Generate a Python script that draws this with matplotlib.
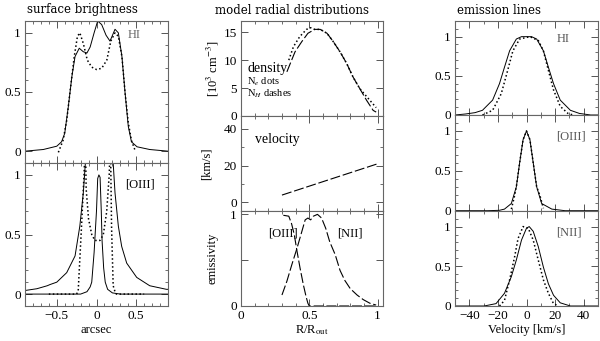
#!/usr/bin/env python3

import numpy as np
import matplotlib.pyplot as plt
from matplotlib.ticker import MultipleLocator

# surface brightness, HI
hi_sb_x = [-0.9, -0.67, -0.5, -0.44, -0.4, -0.355, -0.31, -0.27, -0.217, -0.166, -0.12, -0.08,
           -0.03, 0.015, 0.065, 0.12, 0.17, 0.233, 0.275, 0.32, 0.36, 0.4, 0.44, 0.51, 0.67, 0.9]
hi_sb_obs = [0.0, 0.014, 0.042, 0.079, 0.15, 0.375, 0.63, 0.8, 0.87, 0.84, 0.83, 0.88,
             1.0, 1.1, 1.07, 0.98, 0.93, 1.03, 1.0, 0.8, 0.49, 0.21, 0.079, 0.037, 0.014, 0.0]
hi_sb_mod_x = [-0.48, -0.42, -0.375, -0.33, -0.28, -0.24, -0.21, -0.166, -0.116, -0.06, 0.0,
               0.065, 0.13, 0.18, 0.233, 0.275, 0.32, 0.36, 0.4, 0.44, 0.485]
hi_sb_mod = [-0.01, 0.093, 0.26, 0.52, 0.8, 0.97, 1.0, 0.91, 0.77, 0.71, 0.69,
             0.7, 0.77, 0.93, 1.0, 0.97, 0.8, 0.49, 0.24, 0.09, 0.008]

# surface brightness, [OIII]
oiii_wide_x = [-0.9, -0.75, -0.62, -0.585, -0.5, -0.375, -0.27, -0.21, -0.166, -0.14, -0.12]
oiii_wide = [0.03, 0.045, 0.07, 0.08, 0.1, 0.18, 0.32, 0.57, 0.85, 1.1, 1.3]
oiii_wide_r_x = [0.19, 0.21, 0.233, 0.275, 0.317, 0.38, 0.506, 0.67, 0.88, 0.9]
oiii_wide_r = [1.3, 1.1, 0.85, 0.57, 0.4, 0.26, 0.14, 0.07, 0.04, 0.04]
oiii_core_x = [-0.9, -0.2, -0.12, -0.08, -0.06, -0.03, 0.0, 0.015, 0.03, 0.045, 0.06, 0.07,
               0.09, 0.11, 0.14, 0.2, 0.3, 0.9]
oiii_core = [0.0, 0.0, 0.02, 0.06, 0.1, 0.35, 0.7, 0.97, 1.0, 0.98, 0.7, 0.45,
             0.22, 0.1, 0.04, 0.01, 0.0, 0.0]
oiii_sb_mod_x = [-0.6, -0.25, -0.23, -0.19, -0.157, -0.14, -0.13, -0.1, -0.06, -0.02, 0.044,
                 0.086, 0.128, 0.16, 0.175, 0.19, 0.21, 0.233, 0.25, 0.6]
oiii_sb_mod = [0.0, 0.0, 0.03, 0.55, 1.0, 1.3, 0.88, 0.63, 0.5, 0.45, 0.45,
               0.5, 0.69, 1.0, 1.3, 0.55, 0.07, 0.02, 0.0, 0.0]

# model density
dens_r = [0.336, 0.396, 0.445, 0.49, 0.54, 0.58, 0.63, 0.676, 0.725, 0.774, 0.82, 0.87,
          0.92, 0.968, 0.99]
n_h = [7.9, 11.5, 13.3, 14.8, 15.5, 15.5, 14.8, 13.3, 11.5, 9.4, 7.0, 4.9, 2.8, 1.0, 0.7]
ne_r = [0.35, 0.384, 0.43, 0.48, 0.51, 0.54, 0.58, 0.63, 0.676, 0.725, 0.774, 0.82, 0.87,
        0.944, 0.99]
n_e = [10.0, 12.4, 14.2, 15.5, 15.8, 15.5, 15.5, 14.8, 13.3, 11.5, 9.4, 7.0, 4.9, 2.8, 1.5]

# model velocity
vel_r = [0.3, 1.0]
vel = [4.0, 21.0]

# model emissivity
em_oiii_r = [0.31, 0.35, 0.37, 0.39, 0.41, 0.433, 0.457, 0.477, 0.49, 0.5, 1.0]
em_oiii = [0.99, 0.98, 0.9, 0.78, 0.6, 0.41, 0.23, 0.1, 0.03, 0.0, 0.0]
em_nii_r = [0.3, 0.336, 0.372, 0.41, 0.445, 0.47, 0.49, 0.51, 0.53, 0.56, 0.59, 0.62, 0.65,
            0.69, 0.725, 0.76, 0.8, 0.85, 0.895, 0.944, 0.99]
em_nii = [0.12, 0.27, 0.45, 0.63, 0.81, 0.94, 0.96, 0.94, 0.98, 1.0, 0.96, 0.85, 0.7,
          0.56, 0.39, 0.28, 0.19, 0.12, 0.07, 0.03, 0.01]

# emission line profiles
hi_v = [-50, -42.6, -36, -30.8, -23.7, -18.9, -15.4, -11.8, -7.1, -3.5, 0, 3.5, 7.1, 11.8,
        15.3, 18.9, 23.6, 30.7, 37, 44.9, 50]
hi_obs = [0.0, 0.013, 0.03, 0.06, 0.19, 0.4, 0.61, 0.82, 0.97, 1.0, 1.0, 1.0, 0.97, 0.82,
          0.61, 0.4, 0.19, 0.06, 0.02, 0.0, 0.0]
hi_mod_v = [-30.8, -23.7, -17.7, -14.2, -9.5, -4.8, 2.4, 8.3, 11.8, 15.3, 18.9, 23.6, 29, 32.6]
hi_mod = [0.0, 0.06, 0.27, 0.5, 0.82, 0.97, 1.0, 0.95, 0.82, 0.57, 0.32, 0.11, 0.02, 0.0]

oiii_v = [-50, -27, -18.9, -15.4, -10.6, -7.1, -4.8, -2.4, 0, 2.4, 4.7, 7.1, 10.6, 17.7, 27, 50]
oiii_obs = [0.0, 0.0, 0.005, 0.02, 0.09, 0.3, 0.6, 0.89, 1.0, 0.89, 0.6, 0.3, 0.09, 0.02,
            0.0, 0.0]
oiii_mod_v = [-10.6, -8.3, -7.1, -4.8, -2.4, 0, 2.4, 4.7, 7.1, 9.4, 11.8]
oiii_mod = [0.02, 0.19, 0.3, 0.6, 0.89, 1.0, 0.89, 0.6, 0.3, 0.19, 0.03]

nii_v = [-50, -29.6, -21.3, -15.4, -10.6, -7.1, -3.5, 0, 1.9, 4.7, 8.2, 11.8, 15.3, 18.9,
         23.6, 30.7, 50]
nii_obs = [0.0, 0.0, 0.03, 0.16, 0.37, 0.58, 0.83, 0.98, 1.0, 0.94, 0.75, 0.49, 0.28, 0.135,
           0.04, 0.0, 0.0]
nii_mod_v = [-18.9, -15.4, -11.8, -8.3, -5.9, -2.4, 1.2, 4.7, 8.2, 11.8, 15.3, 18.9, 22.5]
nii_mod = [0.0, 0.07, 0.33, 0.62, 0.85, 1.0, 0.98, 0.83, 0.58, 0.33, 0.16, 0.03, 0.0]

plt.rcParams['font.family'] = ['Liberation Serif', 'DejaVu Serif']
plt.rcParams['mathtext.fontset'] = 'stix'

W, H = 600.0, 341.0


def add_axes(fig, x0, x1, y0, y1):
    return fig.add_axes([x0 / W, 1 - y1 / H, (x1 - x0) / W, (y1 - y0) / H])


def style(ax, xmaj, xmin, ymaj, ymin, showx=False):
    ax.xaxis.set_major_locator(MultipleLocator(xmaj))
    ax.xaxis.set_minor_locator(MultipleLocator(xmin))
    ax.yaxis.set_major_locator(MultipleLocator(ymaj))
    if ymin:
        ax.yaxis.set_minor_locator(MultipleLocator(ymin))
    ax.tick_params(which='both', direction='in', top=True, right=True, labelsize=9.5,
                   color='#555555', pad=3)
    ax.tick_params(which='major', length=5, width=0.7)
    ax.tick_params(which='minor', length=2.5, width=0.6)
    if not showx:
        ax.tick_params(labelbottom=False)
    for s in ax.spines.values():
        s.set_color('#666666')
        s.set_linewidth(0.8)


solid = dict(color='black', lw=0.7)
dots = dict(color='black', lw=1.1, linestyle=(0, (1, 1.6)))
dash = dict(color='black', lw=0.8, linestyle=(0, (9, 2.5)))

fig = plt.figure(figsize=(6, 3.41), dpi=100)

# left column: surface brightness
ax = add_axes(fig, 25, 168, 21, 163)
ax.plot(hi_sb_x, hi_sb_obs, **solid)
ax.plot(hi_sb_mod_x, hi_sb_mod, **dots)
ax.set_xlim(-0.9, 0.9)
ax.set_ylim(-0.1, 1.1)
style(ax, 0.5, 0.1, 0.5, 0.1)
ax.set_yticks([0, 0.5, 1], ['0', '0.5', '1'])
ax.text(0.72, 0.88, 'HI', transform=ax.transAxes, fontsize=9, color='#666666')

ax = add_axes(fig, 25, 168, 163, 306)
ax.plot(oiii_wide_x, oiii_wide, **solid)
ax.plot(oiii_wide_r_x, oiii_wide_r, **solid)
ax.plot(oiii_core_x, oiii_core, **solid)
ax.plot(oiii_sb_mod_x, oiii_sb_mod, **dots)
ax.set_xlim(-0.9, 0.9)
ax.set_ylim(-0.1, 1.1)
style(ax, 0.5, 0.1, 0.5, 0.1, showx=True)
ax.set_yticks([0, 0.5, 1], ['0', '0.5', '1'])
ax.set_xticks([-0.5, 0, 0.5], ['\u22120.5', '0', '0.5'])
ax.set_xlabel('arcsec', fontsize=9, labelpad=1)
ax.text(0.70, 0.83, '[OIII]', transform=ax.transAxes, fontsize=9)
fig.text(27 / W, 1 - 10 / H, 'surface brightness', fontsize=8.5, va='center',
         family='DejaVu Serif')

# middle column: model radial distributions
ax = add_axes(fig, 241, 383, 21, 116)
ax.plot(ne_r, n_e, **dots)
ax.plot(dens_r, n_h, **dash)
ax.set_xlim(0, 1.04)
ax.set_ylim(0, 17)
style(ax, 0.5, 0.1, 5, None)
ax.set_ylabel('[10$^3$ cm$^{-3}$]', fontsize=9, labelpad=2)
ax.text(0.045, 0.46, 'density', transform=ax.transAxes, fontsize=10)
ax.text(0.045, 0.33, 'N$_e$ dots', transform=ax.transAxes, fontsize=7.5)
ax.text(0.045, 0.20, 'N$_H$ dashes', transform=ax.transAxes, fontsize=7.5)

ax = add_axes(fig, 241, 383, 116, 210.7)
ax.plot(vel_r, vel, **dash)
ax.set_xlim(0, 1.04)
ax.set_ylim(-4.5, 47)
style(ax, 0.5, 0.1, 20, 10)
ax.set_ylabel('[km/s]', fontsize=9, labelpad=8)
ax.text(0.1, 0.72, 'velocity', transform=ax.transAxes, fontsize=10)

ax = add_axes(fig, 241, 383, 210.7, 306)
ax.plot(em_oiii_r, em_oiii, **dash)
ax.plot(em_nii_r, em_nii, **dash)
ax.set_xlim(0, 1.04)
ax.set_ylim(0, 1.04)
style(ax, 0.5, 0.1, 0.5, None, showx=True)
ax.set_yticks([0, 0.5, 1], ['0', '', '1'])
ax.set_xticks([0, 0.5, 1], ['0', '0.5', '1'])
ax.set_xlabel('R/R$_{\\rm out}$', fontsize=9, labelpad=1)
ax.set_ylabel('emissivity', fontsize=9, labelpad=8)
ax.text(0.19, 0.73, '[OIII]', transform=ax.transAxes, fontsize=9)
ax.text(0.68, 0.73, '[NII]', transform=ax.transAxes, fontsize=9)
fig.text(215 / W, 1 - 10 / H, 'model radial distributions', fontsize=8.5, va='center',
         family='DejaVu Serif')

# right column: emission lines
ax = add_axes(fig, 455, 598, 21, 115)
ax.plot(hi_v, hi_obs, **solid)
ax.plot(hi_mod_v, hi_mod, **dots)
ax.set_xlim(-50, 50)
ax.set_ylim(0, 1.2)
style(ax, 20, 10, 0.5, 0.1)
ax.set_yticks([0, 0.5, 1], ['0', '0.5', '1'])
ax.text(0.71, 0.78, 'HI', transform=ax.transAxes, fontsize=9, color='#555555')

ax = add_axes(fig, 455, 598, 115, 210.7)
ax.plot(oiii_v, oiii_obs, **solid)
ax.plot(oiii_mod_v, oiii_mod, **dots)
ax.set_xlim(-50, 50)
ax.set_ylim(0, 1.2)
style(ax, 20, 10, 0.5, 0.1)
ax.set_yticks([0, 0.5, 1], ['0', '0.5', '1'])
ax.text(0.71, 0.74, '[OIII]', transform=ax.transAxes, fontsize=9, color='#555555')

ax = add_axes(fig, 455, 598, 210.7, 306)
ax.plot(nii_v, nii_obs, **solid)
ax.plot(nii_mod_v, nii_mod, **dots)
ax.set_xlim(-50, 50)
ax.set_ylim(0, 1.2)
style(ax, 20, 10, 0.5, 0.1, showx=True)
ax.set_yticks([0, 0.5, 1], ['0', '0.5', '1'])
ax.set_xticks([-40, -20, 0, 20, 40], ['\u221240', '\u221220', '0', '20', '40'])
ax.set_xlabel('Velocity [km/s]', fontsize=9, labelpad=1)
ax.text(0.71, 0.74, '[NII]', transform=ax.transAxes, fontsize=9, color='#555555')
fig.text(457 / W, 1 - 10 / H, 'emission lines', fontsize=8.5, va='center',
         family='DejaVu Serif')

fig.savefig('out.png', dpi=100)
